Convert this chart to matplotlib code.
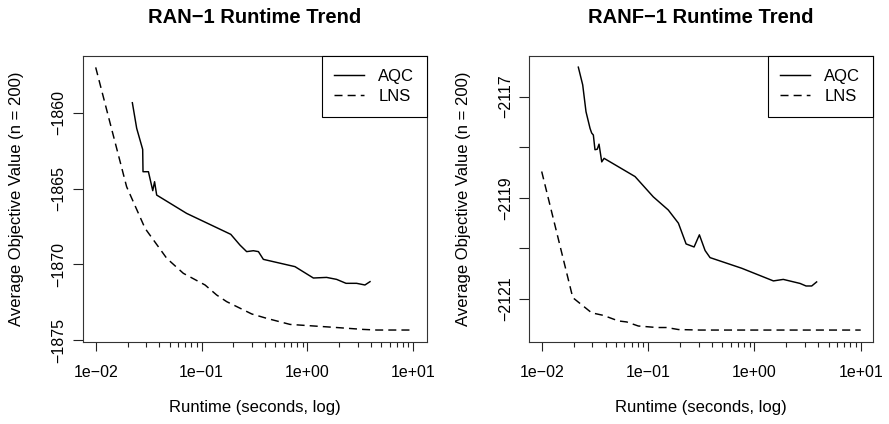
import matplotlib
matplotlib.use("Agg")
import matplotlib.pyplot as plt
from matplotlib.ticker import FixedLocator, FixedFormatter

plt.rcParams['font.family'] = ['Liberation Sans', 'DejaVu Sans']

# RAN-1 data
ran_aqc_t = [0.0222, 0.0244, 0.0278, 0.028, 0.0315, 0.0346, 0.036, 0.0377, 0.0724, 0.189,
             0.231, 0.267, 0.309, 0.345, 0.384, 0.764, 1.14, 1.52, 1.89, 2.32, 2.92, 3.5, 3.91]
ran_aqc_v = [-1859.34, -1861.03, -1862.42, -1863.89, -1863.89, -1865.14, -1864.55, -1865.43,
             -1866.64, -1868.02, -1868.73, -1869.16, -1869.10, -1869.16, -1869.67, -1870.15,
             -1870.90, -1870.86, -1870.99, -1871.25, -1871.25, -1871.36, -1871.14]
ran_lns_t = [0.01, 0.0137, 0.0196, 0.0293, 0.0469, 0.0673, 0.108, 0.139, 0.173, 0.298,
             0.413, 0.686, 1.76, 3.38, 4.52, 10.0]
ran_lns_v = [-1857.01, -1860.70, -1864.88, -1867.63, -1869.60, -1870.59, -1871.36, -1872.02,
             -1872.46, -1873.27, -1873.56, -1873.96, -1874.15, -1874.29, -1874.33, -1874.33]

# RANF-1 data
ranf_aqc_t = [0.0221, 0.0243, 0.0261, 0.0285, 0.0295, 0.0306, 0.0317, 0.0333, 0.0346, 0.0367,
              0.0386, 0.0755, 0.112, 0.155, 0.193, 0.228, 0.271, 0.304, 0.344, 0.383, 0.76,
              1.51, 1.87, 2.69, 3.06, 3.46, 3.85]
ranf_aqc_v = [-2116.42, -2116.77, -2117.30, -2117.63, -2117.72, -2117.76, -2118.05, -2118.04,
              -2117.94, -2118.29, -2118.22, -2118.58, -2118.98, -2119.24, -2119.50, -2119.91,
              -2119.97, -2119.73, -2120.04, -2120.18, -2120.39, -2120.64, -2120.61, -2120.69,
              -2120.74, -2120.74, -2120.66]
ranf_lns_t = [0.01, 0.0196, 0.0295, 0.038, 0.0526, 0.063, 0.081, 0.121, 0.15, 0.193, 0.308, 10.0]
ranf_lns_v = [-2118.48, -2120.97, -2121.27, -2121.32, -2121.43, -2121.45, -2121.53, -2121.56,
              -2121.56, -2121.60, -2121.61, -2121.61]

titles = ["RAN\u22121 Runtime Trend", "RANF\u22121 Runtime Trend"]
xticks = [0.01, 0.1, 1.0, 10.0]
xticklabels = ["1e\u221202", "1e\u221201", "1e+00", "1e+01"]
yticks_ran = [-1875, -1870, -1865, -1860]
yticks_ranf = [-2121, -2120, -2119, -2118, -2117]
yticklabels_ranf = ["\u22122121", "", "\u22122119", "", "\u22122117"]

fig = plt.figure(figsize=(8.89, 4.24), dpi=100)
ax1 = fig.add_axes([0.0930, 0.1941, 0.3870, 0.6738])
ax2 = fig.add_axes([0.5951, 0.1941, 0.3866, 0.6738])

dash = (0, (5.5, 3.5))
panels = [
    (ax1, ran_aqc_t, ran_aqc_v, ran_lns_t, ran_lns_v, (-1875.10, -1856.26), (10**-2.123, 10**1.128)),
    (ax2, ranf_aqc_t, ranf_aqc_v, ranf_lns_t, ranf_lns_v, (-2121.84, -2116.20), (10**-2.119, 10**1.113)),
]

minor = [m * 10.0**k for k in (-2, -1, 0) for m in range(2, 10)]

for i, (ax, at, av, lt, lv, ylim, xlim) in enumerate(panels):
    ax.plot(at, av, color='black', lw=1.05, label='AQC')
    ax.plot(lt, lv, color='black', lw=1.05, linestyle=dash, label='LNS')
    ax.set_xscale('log')
    ax.set_xlim(*xlim)
    ax.set_ylim(*ylim)
    ax.xaxis.set_major_locator(FixedLocator(xticks))
    ax.xaxis.set_major_formatter(FixedFormatter(xticklabels))
    ax.xaxis.set_minor_locator(FixedLocator(minor))
    ax.xaxis.set_minor_formatter(FixedFormatter([""] * len(minor)))
    if i == 0:
        ax.yaxis.set_major_locator(FixedLocator(yticks_ran))
        ax.yaxis.set_major_formatter(FixedFormatter(["\u2212%d" % (-v) for v in yticks_ran]))
    else:
        ax.yaxis.set_major_locator(FixedLocator(yticks_ranf))
        ax.yaxis.set_major_formatter(FixedFormatter(yticklabels_ranf))
    ax.tick_params(axis='x', which='major', length=6.5, width=0.8, pad=10, labelsize=11.5, color='#222222')
    ax.tick_params(axis='x', which='minor', length=3.6, width=0.8, color='#222222')
    ax.tick_params(axis='y', which='major', length=7, width=0.8, pad=4.5, labelsize=11.5, color='#222222')
    for lab in ax.get_yticklabels():
        lab.set_rotation(90)
        lab.set_va('center')
    for s in ax.spines.values():
        s.set_linewidth(0.8)
        s.set_color('#333333')
    ax.set_title(titles[i], fontsize=14.5, fontweight='bold', pad=23.5)
    ax.set_xlabel("Runtime (seconds, log)", fontsize=12)
    ax.xaxis.set_label_coords(0.5, -0.204)
    ax.set_ylabel("Average Objective Value (n = 200)", fontsize=12)
    ax.yaxis.set_label_coords(-0.17, 0.5)
    leg = ax.legend(loc='upper right', fontsize=12, frameon=True, fancybox=False,
                    edgecolor='black', framealpha=1, borderaxespad=0, borderpad=0.75,
                    labelspacing=0.33, handlelength=1.8, handletextpad=0.85)
    leg.get_frame().set_linewidth(0.8)

fig.savefig("out.png", dpi=100)
